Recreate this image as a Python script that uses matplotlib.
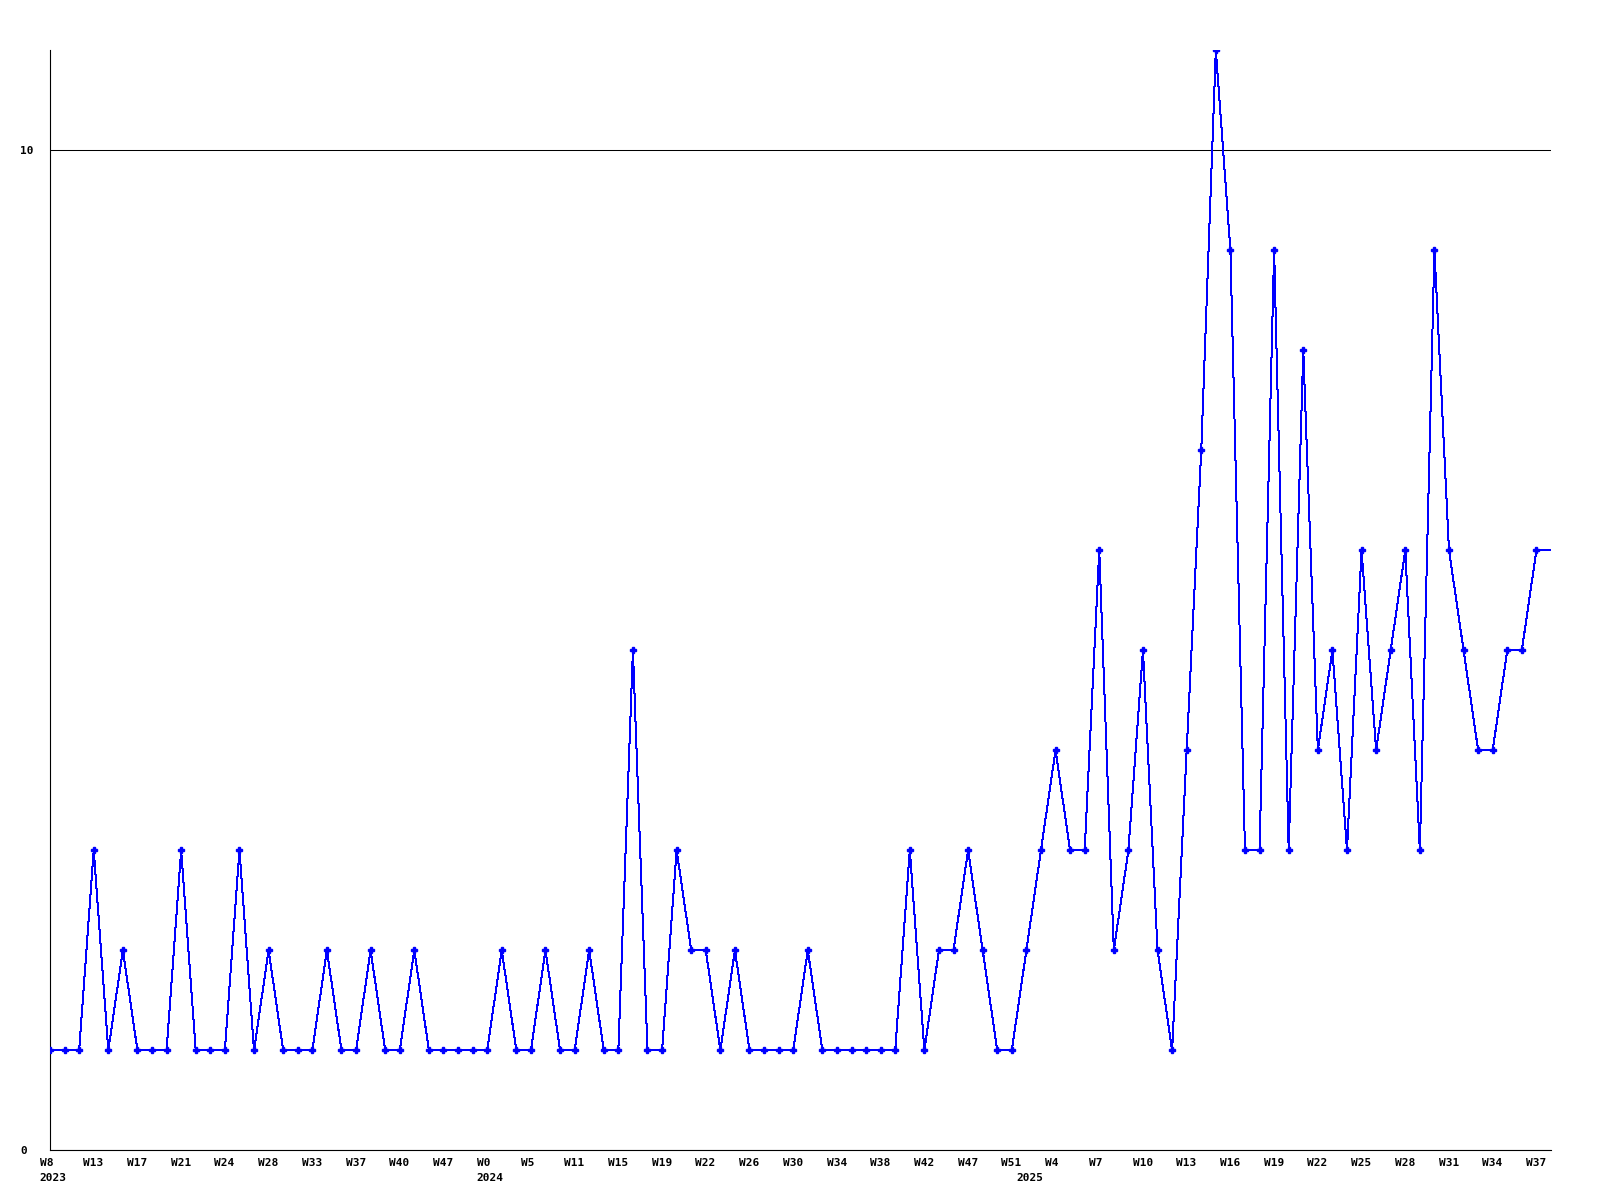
import numpy as np
import matplotlib
matplotlib.use("Agg")
import matplotlib.pyplot as plt
from matplotlib.transforms import ScaledTranslation, blended_transform_factory

values = [1, 1, 1, 3, 1, 2, 1, 1, 1, 3,
          1, 1, 1, 3, 1, 2, 1, 1, 1, 2,
          1, 1, 2, 1, 1, 2, 1, 1, 1, 1,
          1, 2, 1, 1, 2, 1, 1, 2, 1, 1,
          5, 1, 1, 3, 2, 2, 1, 2, 1, 1,
          1, 1, 2, 1, 1, 1, 1, 1, 1, 3,
          1, 2, 2, 3, 2, 1, 1, 2, 3, 4,
          3, 3, 6, 2, 3, 5, 2, 1, 4, 7,
          11, 9, 3, 3, 9, 3, 8, 4, 5, 3,
          6, 4, 5, 6, 3, 9, 6, 5, 4, 4,
          5, 5, 6]

week_labels = ["W8", "W13", "W17", "W21", "W24", "W28", "W33", "W37", "W40", "W47",
               "W0", "W5", "W11", "W15", "W19", "W22", "W26", "W30", "W34", "W38",
               "W42", "W47", "W51", "W4", "W7", "W10", "W13", "W16", "W19", "W22",
               "W25", "W28", "W31", "W34", "W37"]
week_label_step = 3

year_labels = ["2023", "2024", "2025"]
year_label_idx = [0, 30, 67]

y_ticks = [0, 10]
y_max = 11

n = len(values)
xs = np.arange(n)

fig = plt.figure(figsize=(16, 12), dpi=100)
ax = fig.add_axes([50 / 1600, 1 - 1150.3 / 1200, 1501 / 1600, 1100.3 / 1200])

line_x = np.arange(n + 1)
line_y = values + [values[-1]]
ax.plot(line_x, line_y, color="#0000ff", lw=0.72, marker="P", ms=4,
        markevery=list(range(n)), antialiased=False, zorder=3)

ax.set_xlim(0, n)
ax.set_ylim(0, y_max)

for s in ["top", "right"]:
    ax.spines[s].set_visible(False)
for s in ["left", "bottom"]:
    ax.spines[s].set_color("black")
    ax.spines[s].set_linewidth(0.8)

font = dict(family="DejaVu Sans Mono", weight="bold", size=8)

ax.set_yticks(y_ticks)
ax.set_yticklabels([str(v) for v in y_ticks], **font)
ax.tick_params(axis="y", length=0, pad=21.6)
for lab in ax.get_yticklabels():
    lab.set_ha("left")
ax.yaxis.grid(True, color="black", lw=0.75)
ax.set_axisbelow(True)

tick_pos = np.arange(0, n, week_label_step)[:len(week_labels)]
ax.set_xticks(tick_pos)
ax.set_xticklabels(week_labels, **font)
ax.tick_params(axis="x", length=0, pad=5.5)
offset = ScaledTranslation(-10.4 / 100, 0, fig.dpi_scale_trans)
for lab in ax.get_xticklabels():
    lab.set_ha("left")
    lab.set_transform(lab.get_transform() + offset)

trans = blended_transform_factory(ax.transData, ax.transAxes) + offset
for lbl, idx in zip(year_labels, year_label_idx):
    ax.text(idx, -22.5 / 1100.3, lbl, transform=trans, ha="left", va="top", **font)

fig.savefig("out.png", dpi=100, facecolor="white")
